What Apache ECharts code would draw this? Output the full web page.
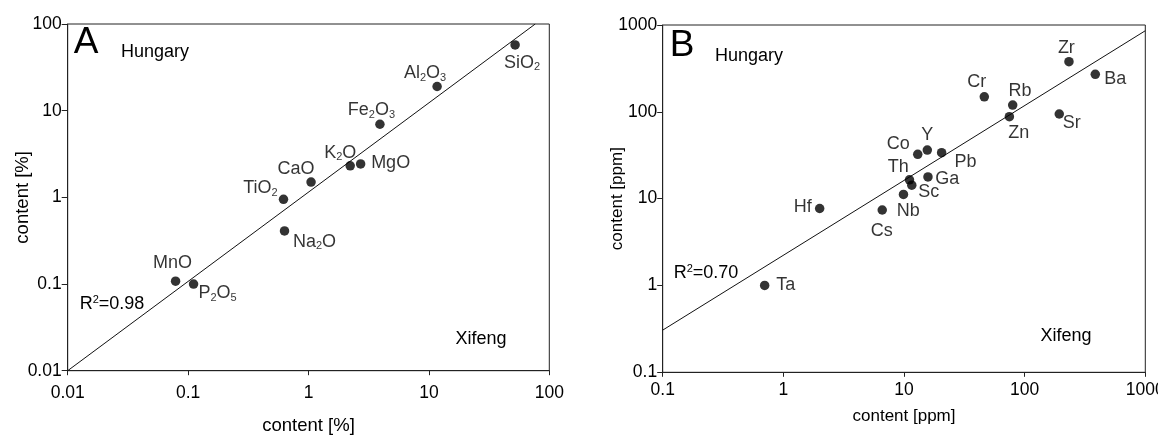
<!DOCTYPE html>
<html>
<head>
<meta charset="utf-8">
<script src="https://cdn.jsdelivr.net/npm/echarts@6/dist/echarts.min.js"></script>
<style>
  html, body { margin: 0; padding: 0; background: #fff; }
  #chart { width: 1158px; height: 435px; }
</style>
</head>
<body>
<div id="chart"></div>
<script>
// ---------- Data: panel A (major oxides, %) ----------
const namesA = ['SiO{b|2}', 'Al{b|2}O{b|3}', 'Fe{b|2}O{b|3}', 'K{b|2}O', 'MgO', 'CaO', 'TiO{b|2}', 'Na{b|2}O', 'MnO', 'P{b|2}O{b|5}'];
const xifengA = [52, 11.7, 3.92, 2.22, 2.71, 1.05, 0.62, 0.632, 0.0787, 0.111];
const hungaryA = [57.3, 19.0, 6.97, 2.31, 2.43, 1.50, 0.95, 0.41, 0.108, 0.0998];
const fitLineA = [[0.01, 0.01], [76.4, 100]];
const ticksA = ['0.01', '0.1', '1', '10', '100'];

// ---------- Data: panel B (trace elements, ppm) ----------
const namesB = ['Zr', 'Ba', 'Cr', 'Rb', 'Zn', 'Sr', 'Co', 'Y', 'Pb', 'Th', 'Sc', 'Ga', 'Nb', 'Cs', 'Hf', 'Ta'];
const xifengB = [233, 385, 46.3, 79.6, 74.7, 193.6, 13.0, 15.6, 20.5, 11.1, 11.6, 15.8, 9.9, 6.6, 2.0, 0.70];
const hungaryB = [378, 270, 149, 119.7, 87.9, 94.4, 32.4, 36.3, 33.8, 16.5, 14.3, 17.8, 11.2, 7.4, 7.7, 1.0];
const fitLineB = [[0.1, 0.306], [1000, 859]];
const ticksB = ['0.1', '1', '10', '100', '1000'];

// ---------- Label placement (pixel offsets from each point) ----------
const labelOffsetA = [[7, 18], [-12, -13], [-8.5, -14], [-10, -13], [30, -1], [-15, -13], [-23, -11], [30, 11], [-3, -18], [24, 9]];
const labelOffsetB = [[-2.6, -13.3], [20, 4.7], [-7.6, -15], [7.3, -14.3], [9.4, 16.6], [12.4, 9.3], [-19.4, -10.3], [0, -15.5], [24, 9], [-11.3, -13], [17, 7.3], [19.2, 2.3], [4.7, 16.4], [-0.6, 20.7], [-17, -1], [21, 0]];

const FONT = '"Liberation Sans", Arial, Helvetica, sans-serif';
const INK = '#000';
const FRAME = '#222';

const rich = {
  b: { fontSize: 11, fontFamily: FONT, color: INK, padding: [9, 0, 0, 0] },
  sup: { fontSize: 11, fontFamily: FONT, color: INK, padding: [0, 0, 9, 0] }
};

function tickFormatter(labels, minExp) {
  return function (v) {
    const i = Math.round(Math.log10(v)) - minExp;
    return labels[i] !== undefined ? labels[i] : '';
  };
}

function axisCommon(extra) {
  return Object.assign({
    type: 'log',
    logBase: 10,
    axisLine: { show: true, lineStyle: { color: FRAME, width: 1 } },
    axisTick: { show: true, inside: false, length: 5, lineStyle: { color: FRAME, width: 1 } },
    minorTick: { show: false },
    splitLine: { show: false },
    nameLocation: 'middle',
    nameMoveOverlap: false,
    nameTextStyle: { fontSize: 18, fontFamily: FONT, color: INK }
  }, extra);
}

function pointData(xs, ys, offs) {
  return xs.map((x, i) => ({ value: [x, ys[i]], label: { offset: offs[i] } }));
}

const chart = echarts.init(document.getElementById('chart'), null, { renderer: 'canvas' });

const labelBase = {
  show: true, position: 'inside', align: 'center', verticalAlign: 'middle',
  fontSize: 18, fontFamily: FONT, color: INK, textBorderWidth: 0, rich: rich
};

const option = {
  animation: false,
  backgroundColor: '#fff',
  grid: [
    { left: 67.7, top: 24, width: 481.6, height: 346.7, show: true, borderColor: FRAME, borderWidth: 1, containLabel: false, outerBoundsMode: 'none' },
    { left: 662.7, top: 25, width: 482.6, height: 347.3, show: true, borderColor: FRAME, borderWidth: 1, containLabel: false, outerBoundsMode: 'none' }
  ],
  xAxis: [
    axisCommon({
      gridIndex: 0, min: 0.01, max: 100,
      axisTick: { show: true, length: 4.5, lineStyle: { color: FRAME } },
      axisLabel: { margin: 13, fontSize: 17.5, fontFamily: FONT, color: INK, formatter: tickFormatter(ticksA, -2) },
      name: 'content [%]', nameGap: 46,
      nameTextStyle: { fontSize: 18.5, fontFamily: FONT, color: INK }
    }),
    axisCommon({
      gridIndex: 1, min: 0.1, max: 1000,
      axisTick: { show: true, length: 4.5, lineStyle: { color: FRAME } },
      axisLabel: { margin: 9, fontSize: 17.5, fontFamily: FONT, color: INK, formatter: tickFormatter(ticksB, -1) },
      name: 'content [ppm]', nameGap: 35.5,
      nameTextStyle: { fontSize: 17, fontFamily: FONT, color: INK }
    })
  ],
  yAxis: [
    axisCommon({
      gridIndex: 0, min: 0.01, max: 100,
      axisTick: { show: true, length: 6, lineStyle: { color: FRAME } },
      axisLabel: { margin: 6, fontSize: 17.5, fontFamily: FONT, color: INK, formatter: tickFormatter(ticksA, -2) },
      name: 'content [%]', nameGap: 35.5,
      nameTextStyle: { fontSize: 18.5, fontFamily: FONT, color: INK }
    }),
    axisCommon({
      gridIndex: 1, min: 0.1, max: 1000,
      axisTick: { show: true, length: 5.5, lineStyle: { color: FRAME } },
      axisLabel: { margin: 5.5, fontSize: 17.5, fontFamily: FONT, color: INK, formatter: tickFormatter(ticksB, -1) },
      name: 'content [ppm]', nameGap: 37,
      nameTextStyle: { fontSize: 17, fontFamily: FONT, color: INK }
    })
  ],
  series: [
    {
      type: 'line', xAxisIndex: 0, yAxisIndex: 0, data: fitLineA,
      showSymbol: false, symbol: 'none', silent: true,
      lineStyle: { color: '#111', width: 1 }, z: 2
    },
    {
      type: 'line', xAxisIndex: 1, yAxisIndex: 1, data: fitLineB,
      showSymbol: false, symbol: 'none', silent: true,
      lineStyle: { color: '#111', width: 1 }, z: 2
    },
    {
      type: 'scatter', xAxisIndex: 0, yAxisIndex: 0,
      data: pointData(xifengA, hungaryA, labelOffsetA),
      symbol: 'circle', symbolSize: 9.5,
      itemStyle: { color: '#000' }, z: 3,
      label: Object.assign({ formatter: p => namesA[p.dataIndex] }, labelBase)
    },
    {
      type: 'scatter', xAxisIndex: 1, yAxisIndex: 1,
      data: pointData(xifengB, hungaryB, labelOffsetB),
      symbol: 'circle', symbolSize: 9.5,
      itemStyle: { color: '#000' }, z: 3,
      label: Object.assign({ formatter: p => namesB[p.dataIndex] }, labelBase)
    }
  ],
  graphic: [
    { type: 'text', x: 86, y: 43, style: { text: 'A', fontSize: 37, fontFamily: FONT, fill: INK, align: 'center', verticalAlign: 'middle' } },
    { type: 'text', x: 155, y: 52, style: { text: 'Hungary', fontSize: 18, fontFamily: FONT, fill: INK, align: 'center', verticalAlign: 'middle' } },
    { type: 'text', x: 481, y: 339, style: { text: 'Xifeng', fontSize: 18, fontFamily: FONT, fill: INK, align: 'center', verticalAlign: 'middle' } },
    { type: 'text', x: 112, y: 304, style: { text: 'R{sup|2}=0.98', rich: rich, fontSize: 18, fontFamily: FONT, fill: INK, align: 'center', verticalAlign: 'middle' } },
    { type: 'text', x: 682, y: 45.5, style: { text: 'B', fontSize: 37, fontFamily: FONT, fill: INK, align: 'center', verticalAlign: 'middle' } },
    { type: 'text', x: 749, y: 56.5, style: { text: 'Hungary', fontSize: 18, fontFamily: FONT, fill: INK, align: 'center', verticalAlign: 'middle' } },
    { type: 'text', x: 1066, y: 336.5, style: { text: 'Xifeng', fontSize: 18, fontFamily: FONT, fill: INK, align: 'center', verticalAlign: 'middle' } },
    { type: 'text', x: 706, y: 273, style: { text: 'R{sup|2}=0.70', rich: rich, fontSize: 18, fontFamily: FONT, fill: INK, align: 'center', verticalAlign: 'middle' } }
  ]
};

chart.setOption(option);
</script>
</body>
</html>
